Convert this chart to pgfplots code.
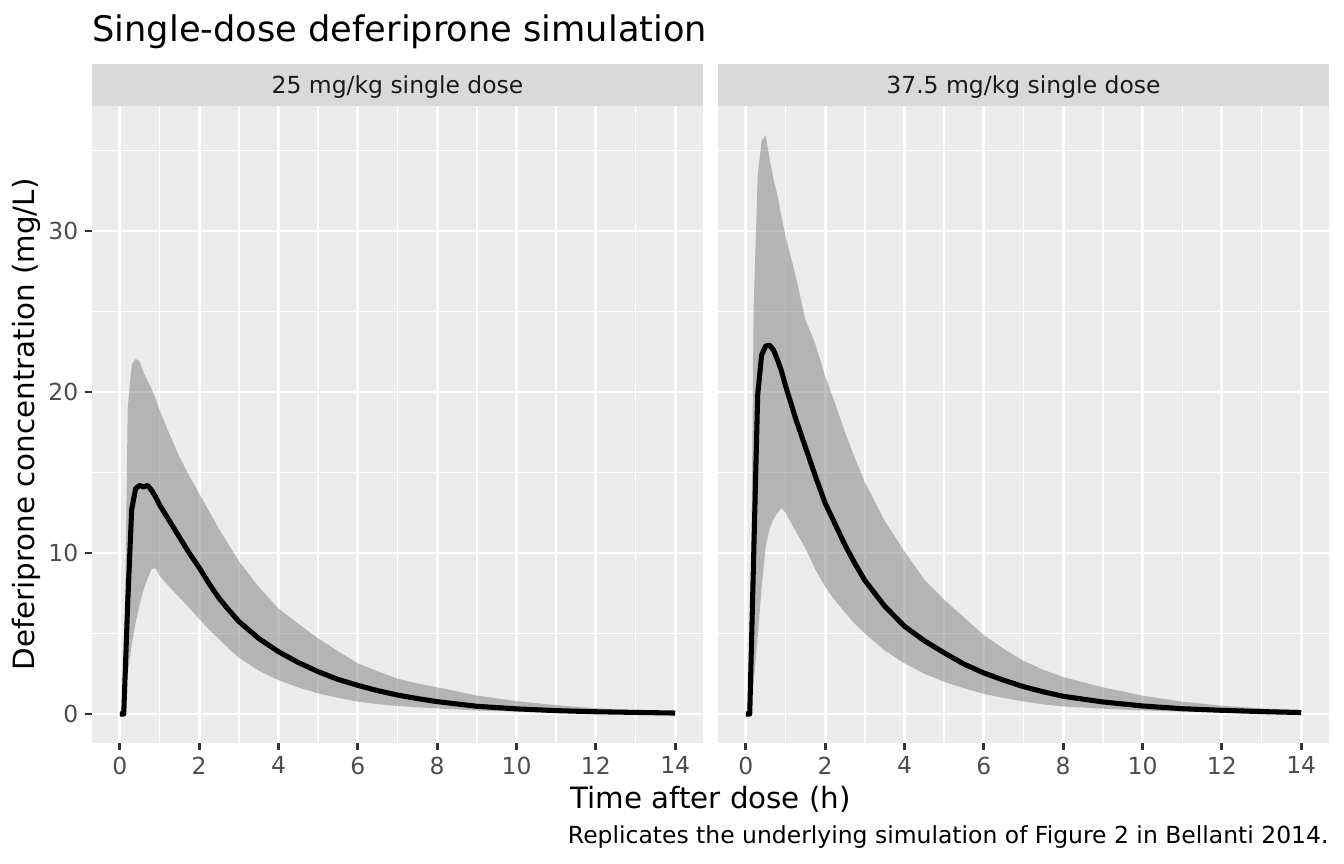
\documentclass[border=0pt]{standalone}
\usepackage{fontspec}
\setmainfont{DejaVu Sans}
\usepackage{pgfplots}
\usepackage{pgfplotstable}
\pgfplotsset{compat=1.18}
\usepgfplotslibrary{fillbetween}

\definecolor{panelbg}{HTML}{EBEBEB}
\definecolor{stripbg}{HTML}{D9D9D9}
\definecolor{striptext}{HTML}{1A1A1A}
\definecolor{ticklab}{HTML}{4D4D4D}
\definecolor{tickcol}{HTML}{333333}
\definecolor{ribbon}{HTML}{7F7F7F}

\newcommand\titlesize{\fontsize{13.2}{15.8}\selectfont}
\newcommand\labsize{\fontsize{11}{13.2}\selectfont}
\newcommand\smallsize{\fontsize{8.8}{10.56}\selectfont}

% time (h), 5th percentile, median, 95th percentile
\pgfplotstableread{
t     lo     med    hi
0     0      0      0
0.1   0      0      0
0.2   2.5    6.9    19.0
0.3   4.3    12.7   21.7
0.4   5.7    14.0   22.05
0.5   6.8    14.2   21.9
0.6   7.7    14.1   21.2
0.7   8.4    14.2   20.7
0.8   9.0    13.9   20.2
0.9   9.05   13.5   19.6
1.0   8.6    13.0   18.9
1.25  7.9    12.0   17.4
1.5   7.25   11.0   16.0
1.75  6.6    10.0   14.8
2.0   5.9    9.1    13.7
2.25  5.25   8.1    12.6
2.5   4.65   7.2    11.5
2.75  4.05   6.45   10.5
3.0   3.5    5.75   9.5
3.5   2.7    4.7    7.9
4.0   2.1    3.87   6.56
4.5   1.65   3.2    5.6
5.0   1.28   2.63   4.7
5.5   1.0    2.15   3.9
6.0   0.77   1.78   3.15
6.5   0.62   1.45   2.65
7.0   0.5    1.18   2.2
7.5   0.42   0.96   1.9
8.0   0.35   0.77   1.66
9.0   0.22   0.48   1.15
10.0  0.15   0.32   0.8
11.0  0.1    0.21   0.55
12.0  0.07   0.14   0.36
13.0  0.05   0.1    0.24
14.0  0.03   0.06   0.15
}\lowdose

\pgfplotstableread{
t     lo     med    hi
0     0      0      0
0.1   0      0      0
0.2   2.0    9.9    25.4
0.3   4.8    19.8   33.4
0.4   7.8    22.3   35.6
0.5   10.4   22.85  35.96
0.6   11.5   22.9   34.5
0.7   12.1   22.6   33.2
0.8   12.5   22.0   32.2
0.9   12.8   21.3   30.9
1.0   12.5   20.4   29.7
1.25  11.4   18.4   27.3
1.5   10.3   16.6   24.5
1.75  9.0    14.8   23.0
2.0   7.9    13.1   21.0
2.25  7.05   11.8   19.3
2.5   6.3    10.5   17.5
2.75  5.6    9.35   15.9
3.0   5.0    8.3    14.4
3.5   3.95   6.7    12.0
4.0   3.15   5.45   10.1
4.5   2.5    4.55   8.35
5.0   2.0    3.8    7.1
5.5   1.6    3.1    6.0
6.0   1.25   2.55   4.9
6.5   1.0    2.1    4.05
7.0   0.78   1.7    3.3
7.5   0.6    1.38   2.75
8.0   0.47   1.1    2.3
9.0   0.33   0.75   1.66
10.0  0.22   0.5    1.14
11.0  0.15   0.33   0.77
12.0  0.1    0.23   0.52
13.0  0.07   0.15   0.35
14.0  0.05   0.09   0.25
}\highdose

\pgfplotsset{
  panel/.style={
    scale only axis,
    width=229.125pt, height=238.875pt,
    xmin=-0.7, xmax=14.7, ymin=-1.8, ymax=37.76,
    axis background/.style={fill=panelbg},
    axis line style={draw=none},
    xtick={0,2,...,14}, minor xtick={1,3,...,13},
    ytick={0,10,20,30}, minor ytick={5,15,25,35},
    grid=both,
    major grid style={white, line width=1.07pt},
    minor grid style={white, line width=0.53pt},
    xminorticks=false, yminorticks=false,
    tick align=outside, tick pos=left,
    major tick length=2.75pt, minor tick length=0pt,
    major tick style={tickcol, line width=1.07pt},
    minor tick style={draw=none},
    /pgf/number format/assume math mode=true,
    tick label style={font=\smallsize, text=ticklab},
    xticklabel style={inner sep=0pt, anchor=north, yshift=-2.2pt},
    yticklabel style={inner sep=0pt, anchor=east, xshift=-2.2pt},
    no markers,
    clip=true,
  },
  band/.style={fill=ribbon, fill opacity=0.5, draw=none},
  median/.style={black, line width=1.9pt, line join=round},
}

\begin{document}
\begin{tikzpicture}
\path (0,0) rectangle (504pt,-324pt);

% facet strips
\fill[stripbg] (34.5pt,-24pt) rectangle (263.625pt,-39.75pt);
\fill[stripbg] (269.25pt,-24pt) rectangle (498.375pt,-39.75pt);
\node[font=\smallsize, text=striptext, anchor=base] at (149.06pt,-35pt) {25 mg/kg single dose};
\node[font=\smallsize, text=striptext, anchor=base] at (383.81pt,-35pt) {37.5 mg/kg single dose};

\begin{axis}[panel, at={(34.5pt,-278.625pt)}, anchor=south west]
  \addplot[name path=hiA, draw=none] table[x=t, y=hi] {\lowdose};
  \addplot[name path=loA, draw=none] table[x=t, y=lo] {\lowdose};
  \addplot[band] fill between[of=hiA and loA];
  \addplot[median] table[x=t, y=med] {\lowdose};
\end{axis}

\begin{axis}[panel, at={(269.25pt,-278.625pt)}, anchor=south west,
             ymajorticks=false, yticklabels={}]
  \addplot[name path=hiB, draw=none] table[x=t, y=hi] {\highdose};
  \addplot[name path=loB, draw=none] table[x=t, y=lo] {\highdose};
  \addplot[band] fill between[of=hiB and loB];
  \addplot[median] table[x=t, y=med] {\highdose};
\end{axis}

% titles and caption
\node[font=\titlesize, anchor=base west, inner sep=0pt] at (34.5pt,-15.6pt) {Single-dose deferiprone simulation};
\node[font=\labsize, anchor=base, inner sep=0pt] at (266.44pt,-303pt) {Time after dose (h)};
\node[font=\labsize, anchor=base, inner sep=0pt, rotate=90] at (13.1pt,-159.19pt) {Deferiprone concentration (mg/L)};
\node[font=\smallsize, anchor=base east, inner sep=0pt] at (498.375pt,-316.4pt) {Replicates the underlying simulation of Figure 2 in Bellanti 2014.};

\pgfresetboundingbox
\path[use as bounding box] (0,0) rectangle (504pt,-324pt);
\end{tikzpicture}
\end{document}
